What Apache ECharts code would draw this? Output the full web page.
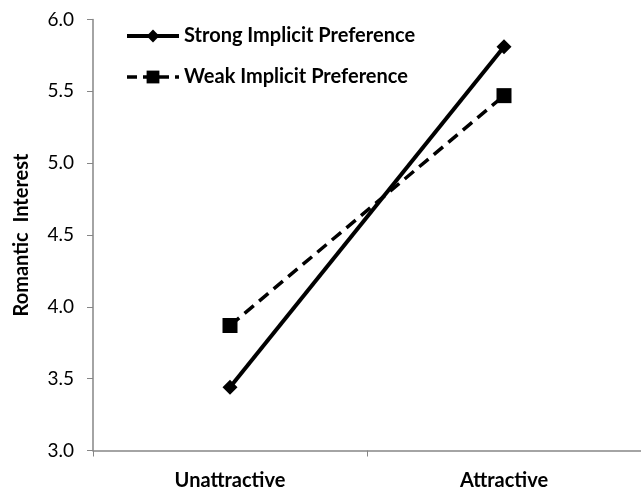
<!DOCTYPE html>
<html><head><meta charset="utf-8">
<script src="https://cdn.jsdelivr.net/npm/echarts@6/dist/echarts.min.js"></script>
<style>html,body{margin:0;padding:0;background:#fff}#c{width:641px;height:491px}</style>
</head><body><div id="c"></div>
<script>
const categories = ["Unattractive", "Attractive"];
const seriesNames = ["Strong Implicit Preference", "Weak Implicit Preference"];
const strongValues = [3.44, 5.81];
const weakValues = [3.87, 5.47];
const yTicks = { min: 3, max: 6, interval: 0.5 };
const yAxisTitle = "Romantic  Interest";

const chart = echarts.init(document.getElementById('c'), null, { renderer: 'canvas' });
const font = 'Lato';
chart.setOption({
  animation: false,
  backgroundColor: '#fff',
  grid: { left: 93, right: -3, top: 19.5, bottom: 40.5, containLabel: false },
  legend: {
    orient: 'vertical', left: 120, top: 21,
    itemWidth: 52, itemHeight: 16, itemGap: 21,
    textStyle: { fontFamily: font, fontWeight: 'bold', fontSize: 20, color: '#000' },
    data: [
      { name: seriesNames[0], lineStyle: { width: 4, type: 'solid', color: '#000' } },
      { name: seriesNames[1], lineStyle: { width: 3.5, type: [10, 6], color: '#000' } }
    ]
  },
  xAxis: {
    type: 'category', data: categories, boundaryGap: true,
    axisLine: { lineStyle: { color: '#868686', width: 1.5 } },
    axisTick: { show: true, length: 6, alignWithLabel: false, lineStyle: { color: '#868686' } },
    axisLabel: { fontFamily: font, fontWeight: 'bold', fontSize: 20, color: '#000', margin: 20 }
  },
  yAxis: {
    type: 'value', min: yTicks.min, max: yTicks.max, interval: yTicks.interval,
    name: yAxisTitle, nameLocation: 'middle', nameGap: 61, nameRotate: 90,
    nameTextStyle: { fontFamily: font, fontWeight: 'bold', fontSize: 20, color: '#000' },
    splitLine: { show: false },
    axisLine: { show: true, lineStyle: { color: '#868686', width: 1.5 } },
    axisTick: { show: true, length: 6, lineStyle: { color: '#868686' } },
    axisLabel: { fontFamily: font, fontSize: 19, color: '#000', margin: 19,
      formatter: v => v.toFixed(1) }
  },
  series: [
    { name: seriesNames[0], type: 'line', data: strongValues,
      symbol: 'diamond', symbolSize: 15,
      lineStyle: { color: '#000', width: 4, type: 'solid' },
      itemStyle: { color: '#000' } },
    { name: seriesNames[1], type: 'line', data: weakValues,
      symbol: 'rect', symbolSize: 15,
      lineStyle: { color: '#000', width: 3.5, type: [12, 7] },
      itemStyle: { color: '#000' } }
  ]
});
</script></body></html>
